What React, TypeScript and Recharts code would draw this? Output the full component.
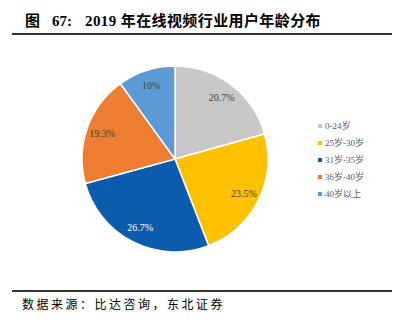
import React from 'react';
import { PieChart, Pie, Cell, Legend } from 'recharts';

const ageGroups = ['0-24岁', '25岁-30岁', '31岁-35岁', '36岁-40岁', '40岁以上'];
const shares = [20.7, 23.5, 26.7, 19.3, 10];
const shareLabels = ['20.7%', '23.5%', '26.7%', '19.3%', '10%'];
const colors = ['#C8C8C8', '#FFC000', '#0B5CAD', '#ED7D31', '#5B9BD5'];
const labelColors = ['#404040', '#404040', '#FFFFFF', '#404040', '#404040'];

const data = ageGroups.map((name, i) => ({ name, value: shares[i], label: shareLabels[i] }));

const RADIAN = Math.PI / 180;

const renderLabel = (props: any) => {
   const { cx, cy, midAngle, outerRadius, index } = props;
   const r = outerRadius * 0.83;
   const x = cx + r * Math.cos(-midAngle * RADIAN);
   const y = cy + r * Math.sin(-midAngle * RADIAN);
   return (
      <text
         x={x}
         y={y}
         fill={labelColors[index]}
         textAnchor="middle"
         dominantBaseline="central"
         fontSize={10}
         fontFamily="'Liberation Serif', serif"
      >
         {data[index].label}
      </text>
   );
};

const renderLegend = () => (
   <div style={{ fontFamily: "'Liberation Serif', 'Noto Sans CJK SC', serif", fontSize: 9, color: '#595959' }}>
      {data.map((d, i) => (
         <div key={d.name} style={{ display: 'flex', alignItems: 'center', height: 17 }}>
            <span style={{ width: 4, height: 4, background: colors[i], marginRight: 3, display: 'inline-block' }} />
            <span>{d.name}</span>
         </div>
      ))}
   </div>
);

const titleStyle: React.CSSProperties = {
   position: 'absolute',
   top: 11,
   height: 20,
   lineHeight: '20px',
   fontFamily: "'Liberation Serif', 'Noto Sans CJK SC', serif",
   fontWeight: 'bold',
   fontSize: 15,
   whiteSpace: 'nowrap',
   color: '#000',
};

const App: React.FC = () => {
   return (
      <div style={{ position: 'absolute', left: 0, top: 0, width: 403, height: 322, background: '#fff' }}>
         <div style={{ position: 'absolute', left: 0, top: 0 }}>
            <PieChart width={403} height={322}>
               <Pie
                  data={data}
                  dataKey="value"
                  cx={170}
                  cy={154}
                  outerRadius={93}
                  startAngle={90}
                  endAngle={-270}
                  stroke="#fff"
                  strokeWidth={1.5}
                  label={renderLabel}
                  labelLine={false}
                  isAnimationActive={false}
               >
                  {data.map((d, i) => (
                     <Cell key={d.name} fill={colors[i]} />
                  ))}
               </Pie>
               <Legend
                  layout="vertical"
                  content={renderLegend}
                  wrapperStyle={{ position: 'absolute', left: 318, top: 117, width: 80 }}
               />
            </PieChart>
         </div>
         <div style={{ ...titleStyle, left: 25 }}>图</div>
         <div style={{ ...titleStyle, left: 52 }}>67:</div>
         <div style={{ ...titleStyle, left: 85, letterSpacing: 0.4 }}>2019 年在线视频行业用户年龄分布</div>
         <div style={{ position: 'absolute', left: 12, top: 33, width: 380, height: 2, background: '#333' }} />
         <div style={{ position: 'absolute', left: 12, top: 290, width: 380, height: 1.5, background: '#333' }} />
         <div
            style={{
               position: 'absolute',
               left: 22,
               top: 295,
               fontFamily: "'Noto Sans CJK SC', serif",
               fontSize: 12,
               letterSpacing: 2.5,
               whiteSpace: 'nowrap',
               color: '#000',
            }}
         >
            数据来源：比达咨询，东北证券
         </div>
      </div>
   );
};

export default App;
